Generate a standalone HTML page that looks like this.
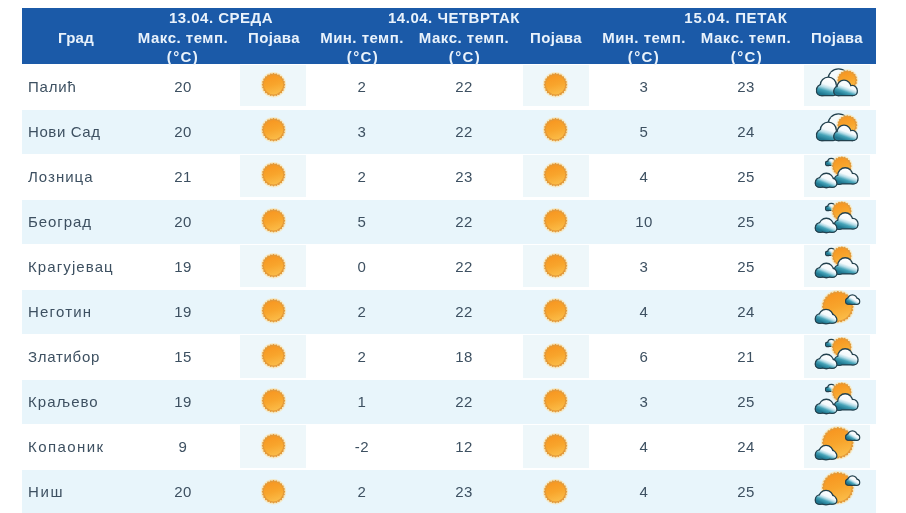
<!DOCTYPE html>
<html><head><meta charset="utf-8"><style>
html,body{margin:0;padding:0;background:#fff;width:906px;height:513px;overflow:hidden;position:relative;font-family:"Liberation Sans",sans-serif;}
.hdr{position:absolute;left:22px;top:8px;width:854px;height:56px;background:#1b5aa8;}
.ht{position:absolute;width:200px;text-align:center;color:#e9f2fb;font-weight:bold;font-size:15px;line-height:15px;letter-spacing:1px;white-space:nowrap;will-change:transform;}
.row{position:absolute;left:22px;width:854px;height:44px;}
.alt{background:#e8f5fb;}
.box{position:absolute;width:66px;height:40px;background:#eef7fa;}
.t{position:absolute;width:200px;text-align:center;color:#3d5061;font-size:15px;line-height:15px;letter-spacing:0.5px;white-space:nowrap;will-change:transform;}
.tl{position:absolute;color:#3d5061;font-size:15px;line-height:15px;white-space:nowrap;will-change:transform;}
.ic{position:absolute;filter:blur(0.35px);}
</style></head><body>
<svg width="0" height="0" style="position:absolute"><defs><linearGradient id="sgP" gradientUnits="userSpaceOnUse" x1="30.32" y1="8.10" x2="36.68" y2="29.30">
<stop offset="0" stop-color="#f79520"/><stop offset="0.5" stop-color="#f8a52c"/><stop offset="1" stop-color="#fbbf4c"/></linearGradient><linearGradient id="sgA" gradientUnits="userSpaceOnUse" x1="40.60" y1="5.20" x2="46.00" y2="23.20">
<stop offset="0" stop-color="#f79520"/><stop offset="0.5" stop-color="#f8a52c"/><stop offset="1" stop-color="#fbbf4c"/></linearGradient><linearGradient id="cgA1" gradientUnits="userSpaceOnUse" x1="25.70" y1="11.80" x2="20.70" y2="28.90">
<stop offset="0" stop-color="#ffffff"/><stop offset="0.42" stop-color="#f3f9fc"/><stop offset="0.58" stop-color="#b6dde8"/><stop offset="0.76" stop-color="#45a3b8"/><stop offset="1" stop-color="#1f7790"/></linearGradient><linearGradient id="cgA2" gradientUnits="userSpaceOnUse" x1="44.00" y1="14.80" x2="39.00" y2="28.90">
<stop offset="0" stop-color="#ffffff"/><stop offset="0.42" stop-color="#f3f9fc"/><stop offset="0.58" stop-color="#b6dde8"/><stop offset="0.76" stop-color="#45a3b8"/><stop offset="1" stop-color="#1f7790"/></linearGradient><linearGradient id="cgB0" gradientUnits="userSpaceOnUse" x1="30.00" y1="2.90" x2="25.00" y2="8.80">
<stop offset="0" stop-color="#ffffff"/><stop offset="0.42" stop-color="#f3f9fc"/><stop offset="0.58" stop-color="#b6dde8"/><stop offset="0.76" stop-color="#45a3b8"/><stop offset="1" stop-color="#1f7790"/></linearGradient><linearGradient id="sgB" gradientUnits="userSpaceOnUse" x1="35.13" y1="1.30" x2="40.47" y2="19.10">
<stop offset="0" stop-color="#f79520"/><stop offset="0.5" stop-color="#f8a52c"/><stop offset="1" stop-color="#fbbf4c"/></linearGradient><linearGradient id="cgB2" gradientUnits="userSpaceOnUse" x1="44.50" y1="12.40" x2="39.50" y2="27.20">
<stop offset="0" stop-color="#ffffff"/><stop offset="0.42" stop-color="#f3f9fc"/><stop offset="0.58" stop-color="#b6dde8"/><stop offset="0.76" stop-color="#45a3b8"/><stop offset="1" stop-color="#1f7790"/></linearGradient><linearGradient id="cgB1" gradientUnits="userSpaceOnUse" x1="24.60" y1="17.90" x2="19.60" y2="30.30">
<stop offset="0" stop-color="#ffffff"/><stop offset="0.42" stop-color="#f3f9fc"/><stop offset="0.58" stop-color="#b6dde8"/><stop offset="0.76" stop-color="#45a3b8"/><stop offset="1" stop-color="#1f7790"/></linearGradient><linearGradient id="sgC" gradientUnits="userSpaceOnUse" x1="29.42" y1="2.20" x2="38.18" y2="31.40">
<stop offset="0" stop-color="#f79520"/><stop offset="0.5" stop-color="#f8a52c"/><stop offset="1" stop-color="#fbbf4c"/></linearGradient><linearGradient id="cgC2" gradientUnits="userSpaceOnUse" x1="51.20" y1="5.40" x2="46.20" y2="13.60">
<stop offset="0" stop-color="#ffffff"/><stop offset="0.42" stop-color="#f3f9fc"/><stop offset="0.58" stop-color="#b6dde8"/><stop offset="0.76" stop-color="#45a3b8"/><stop offset="1" stop-color="#1f7790"/></linearGradient><linearGradient id="cgC1" gradientUnits="userSpaceOnUse" x1="24.60" y1="20.10" x2="19.60" y2="32.50">
<stop offset="0" stop-color="#ffffff"/><stop offset="0.42" stop-color="#f3f9fc"/><stop offset="0.58" stop-color="#b6dde8"/><stop offset="0.76" stop-color="#45a3b8"/><stop offset="1" stop-color="#1f7790"/></linearGradient><g id="sun"><circle cx="33.5" cy="18.7" r="12.70" fill="#fbe2a8" opacity="0.6"/><path d="M45.20,18.70 L45.11,19.08 L44.85,19.44 L44.47,19.78 L44.01,20.08 L44.37,20.50 L44.66,20.92 L44.81,21.34 L44.80,21.73 L44.62,22.07 L44.27,22.36 L43.81,22.58 L43.29,22.76 L43.54,23.25 L43.70,23.73 L43.74,24.18 L43.63,24.55 L43.36,24.83 L42.96,25.02 L42.46,25.12 L41.91,25.15 L42.02,25.69 L42.05,26.20 L41.98,26.64 L41.77,26.97 L41.44,27.18 L41.00,27.25 L40.49,27.22 L39.95,27.11 L39.92,27.66 L39.82,28.16 L39.63,28.56 L39.35,28.83 L38.98,28.94 L38.53,28.90 L38.05,28.74 L37.56,28.49 L37.38,29.01 L37.16,29.47 L36.87,29.82 L36.53,30.00 L36.14,30.01 L35.72,29.86 L35.30,29.57 L34.88,29.21 L34.58,29.67 L34.24,30.05 L33.88,30.31 L33.50,30.40 L33.12,30.31 L32.76,30.05 L32.42,29.67 L32.12,29.21 L31.70,29.57 L31.28,29.86 L30.86,30.01 L30.47,30.00 L30.13,29.82 L29.84,29.47 L29.62,29.01 L29.44,28.49 L28.95,28.74 L28.47,28.90 L28.02,28.94 L27.65,28.83 L27.37,28.56 L27.18,28.16 L27.08,27.66 L27.05,27.11 L26.51,27.22 L26.00,27.25 L25.56,27.18 L25.23,26.97 L25.02,26.64 L24.95,26.20 L24.98,25.69 L25.09,25.15 L24.54,25.12 L24.04,25.02 L23.64,24.83 L23.37,24.55 L23.26,24.18 L23.30,23.73 L23.46,23.25 L23.71,22.76 L23.19,22.58 L22.73,22.36 L22.38,22.07 L22.20,21.73 L22.19,21.34 L22.34,20.92 L22.63,20.50 L22.99,20.08 L22.53,19.78 L22.15,19.44 L21.89,19.08 L21.80,18.70 L21.89,18.32 L22.15,17.96 L22.53,17.62 L22.99,17.32 L22.63,16.90 L22.34,16.48 L22.19,16.06 L22.20,15.67 L22.38,15.33 L22.73,15.04 L23.19,14.82 L23.71,14.64 L23.46,14.15 L23.30,13.67 L23.26,13.22 L23.37,12.85 L23.64,12.57 L24.04,12.38 L24.54,12.28 L25.09,12.25 L24.98,11.71 L24.95,11.20 L25.02,10.76 L25.23,10.43 L25.56,10.22 L26.00,10.15 L26.51,10.18 L27.05,10.29 L27.08,9.74 L27.18,9.24 L27.37,8.84 L27.65,8.57 L28.02,8.46 L28.47,8.50 L28.95,8.66 L29.44,8.91 L29.62,8.39 L29.84,7.93 L30.13,7.58 L30.47,7.40 L30.86,7.39 L31.28,7.54 L31.70,7.83 L32.12,8.19 L32.42,7.73 L32.76,7.35 L33.12,7.09 L33.50,7.00 L33.88,7.09 L34.24,7.35 L34.58,7.73 L34.88,8.19 L35.30,7.83 L35.72,7.54 L36.14,7.39 L36.53,7.40 L36.87,7.58 L37.16,7.93 L37.38,8.39 L37.56,8.91 L38.05,8.66 L38.53,8.50 L38.98,8.46 L39.35,8.57 L39.63,8.84 L39.82,9.24 L39.92,9.74 L39.95,10.29 L40.49,10.18 L41.00,10.15 L41.44,10.22 L41.77,10.43 L41.98,10.76 L42.05,11.20 L42.02,11.71 L41.91,12.25 L42.46,12.28 L42.96,12.38 L43.36,12.57 L43.63,12.85 L43.74,13.22 L43.70,13.67 L43.54,14.15 L43.29,14.64 L43.81,14.82 L44.27,15.04 L44.62,15.33 L44.80,15.67 L44.81,16.06 L44.66,16.48 L44.37,16.90 L44.01,17.32 L44.47,17.62 L44.85,17.96 L45.11,18.32 L45.20,18.70Z" fill="#e39a3a"/><circle cx="33.5" cy="18.7" r="9.70" fill="url(#sgP)"/></g><g id="icA"><g fill="#22414e" stroke="#22414e" stroke-width="2.6"><circle cx="34.5" cy="13.3" r="9.8"/><rect x="26" y="14" width="16" height="8" rx="3"/></g><g fill="#f5fbfd"><circle cx="34.5" cy="13.3" r="9.8"/><rect x="26" y="14" width="16" height="8" rx="3"/></g><circle cx="43.3" cy="14.2" r="11.00" fill="#fbe2a8" opacity="0.6"/><path d="M53.30,14.20 L53.22,14.59 L52.98,14.96 L52.62,15.30 L52.19,15.61 L52.50,16.03 L52.74,16.47 L52.85,16.89 L52.81,17.29 L52.61,17.63 L52.27,17.91 L51.82,18.13 L51.32,18.29 L51.49,18.78 L51.58,19.27 L51.55,19.71 L51.39,20.08 L51.09,20.34 L50.68,20.50 L50.19,20.57 L49.66,20.56 L49.67,21.09 L49.60,21.58 L49.44,21.99 L49.18,22.29 L48.81,22.45 L48.37,22.48 L47.88,22.39 L47.39,22.22 L47.23,22.72 L47.01,23.17 L46.73,23.51 L46.39,23.71 L45.99,23.75 L45.57,23.64 L45.13,23.40 L44.71,23.09 L44.40,23.52 L44.06,23.88 L43.69,24.12 L43.30,24.20 L42.91,24.12 L42.54,23.88 L42.20,23.52 L41.89,23.09 L41.47,23.40 L41.03,23.64 L40.61,23.75 L40.21,23.71 L39.87,23.51 L39.59,23.17 L39.37,22.72 L39.21,22.22 L38.72,22.39 L38.23,22.48 L37.79,22.45 L37.42,22.29 L37.16,21.99 L37.00,21.58 L36.93,21.09 L36.94,20.56 L36.41,20.57 L35.92,20.50 L35.51,20.34 L35.21,20.08 L35.05,19.71 L35.02,19.27 L35.11,18.78 L35.28,18.29 L34.78,18.13 L34.33,17.91 L33.99,17.63 L33.79,17.29 L33.75,16.89 L33.86,16.47 L34.10,16.03 L34.41,15.61 L33.98,15.30 L33.62,14.96 L33.38,14.59 L33.30,14.20 L33.38,13.81 L33.62,13.44 L33.98,13.10 L34.41,12.79 L34.10,12.37 L33.86,11.93 L33.75,11.51 L33.79,11.11 L33.99,10.77 L34.33,10.49 L34.78,10.27 L35.28,10.11 L35.11,9.62 L35.02,9.13 L35.05,8.69 L35.21,8.32 L35.51,8.06 L35.92,7.90 L36.41,7.83 L36.94,7.84 L36.93,7.31 L37.00,6.82 L37.16,6.41 L37.42,6.11 L37.79,5.95 L38.23,5.92 L38.72,6.01 L39.21,6.18 L39.37,5.68 L39.59,5.23 L39.87,4.89 L40.21,4.69 L40.61,4.65 L41.03,4.76 L41.47,5.00 L41.89,5.31 L42.20,4.88 L42.54,4.52 L42.91,4.28 L43.30,4.20 L43.69,4.28 L44.06,4.52 L44.40,4.88 L44.71,5.31 L45.13,5.00 L45.57,4.76 L45.99,4.65 L46.39,4.69 L46.73,4.89 L47.01,5.23 L47.23,5.68 L47.39,6.18 L47.88,6.01 L48.37,5.92 L48.81,5.95 L49.18,6.11 L49.44,6.41 L49.60,6.82 L49.67,7.31 L49.66,7.84 L50.19,7.83 L50.68,7.90 L51.09,8.06 L51.39,8.32 L51.55,8.69 L51.58,9.13 L51.49,9.62 L51.32,10.11 L51.82,10.27 L52.27,10.49 L52.61,10.77 L52.81,11.11 L52.85,11.51 L52.74,11.93 L52.50,12.37 L52.19,12.79 L52.62,13.10 L52.98,13.44 L53.22,13.81 L53.30,14.20Z" fill="#e39a3a"/><circle cx="43.3" cy="14.2" r="8.10" fill="url(#sgA)"/><g fill="#22414e" stroke="#22414e" stroke-width="2.6"><circle cx="24.3" cy="19.2" r="7.4"/><circle cx="18.2" cy="24" r="5.0"/><rect x="13.2" y="22" width="20" height="6.9" rx="4"/></g><g fill="url(#cgA1)"><circle cx="24.3" cy="19.2" r="7.4"/><circle cx="18.2" cy="24" r="5.0"/><rect x="13.2" y="22" width="20" height="6.9" rx="4"/></g><g fill="#22414e" stroke="#22414e" stroke-width="2.6"><circle cx="40" cy="21.1" r="6.3"/><circle cx="48.2" cy="24.5" r="4.4"/><circle cx="34.5" cy="25" r="4.0"/><rect x="30.5" y="23" width="22" height="5.9" rx="3.6"/></g><g fill="url(#cgA2)"><circle cx="40" cy="21.1" r="6.3"/><circle cx="48.2" cy="24.5" r="4.4"/><circle cx="34.5" cy="25" r="4.0"/><rect x="30.5" y="23" width="22" height="5.9" rx="3.6"/></g></g><g id="icB"><g fill="#22414e" stroke="#22414e" stroke-width="2.2"><circle cx="27.3" cy="5.9" r="3.0"/><circle cx="23.8" cy="7.4" r="1.7"/><rect x="22" y="6.2" width="11" height="2.6" rx="1.3"/></g><g fill="url(#cgB0)"><circle cx="27.3" cy="5.9" r="3.0"/><circle cx="23.8" cy="7.4" r="1.7"/><rect x="22" y="6.2" width="11" height="2.6" rx="1.3"/></g><circle cx="37.8" cy="10.2" r="10.80" fill="#fbe2a8" opacity="0.6"/><path d="M47.60,10.20 L47.52,10.58 L47.31,10.95 L46.98,11.29 L46.59,11.59 L46.87,12.00 L47.07,12.43 L47.17,12.84 L47.12,13.23 L46.93,13.57 L46.61,13.85 L46.20,14.07 L45.73,14.24 L45.87,14.72 L45.93,15.18 L45.89,15.61 L45.73,15.96 L45.44,16.22 L45.05,16.39 L44.59,16.48 L44.09,16.49 L44.08,16.99 L43.99,17.45 L43.82,17.84 L43.56,18.13 L43.21,18.29 L42.78,18.33 L42.32,18.27 L41.84,18.13 L41.67,18.60 L41.45,19.01 L41.17,19.33 L40.83,19.52 L40.44,19.57 L40.03,19.47 L39.60,19.27 L39.19,18.99 L38.89,19.38 L38.55,19.71 L38.18,19.92 L37.80,20.00 L37.42,19.92 L37.05,19.71 L36.71,19.38 L36.41,18.99 L36.00,19.27 L35.57,19.47 L35.16,19.57 L34.77,19.52 L34.43,19.33 L34.15,19.01 L33.93,18.60 L33.76,18.13 L33.28,18.27 L32.82,18.33 L32.39,18.29 L32.04,18.13 L31.78,17.84 L31.61,17.45 L31.52,16.99 L31.51,16.49 L31.01,16.48 L30.55,16.39 L30.16,16.22 L29.87,15.96 L29.71,15.61 L29.67,15.18 L29.73,14.72 L29.87,14.24 L29.40,14.07 L28.99,13.85 L28.67,13.57 L28.48,13.23 L28.43,12.84 L28.53,12.43 L28.73,12.00 L29.01,11.59 L28.62,11.29 L28.29,10.95 L28.08,10.58 L28.00,10.20 L28.08,9.82 L28.29,9.45 L28.62,9.11 L29.01,8.81 L28.73,8.40 L28.53,7.97 L28.43,7.56 L28.48,7.17 L28.67,6.83 L28.99,6.55 L29.40,6.33 L29.87,6.16 L29.73,5.68 L29.67,5.22 L29.71,4.79 L29.87,4.44 L30.16,4.18 L30.55,4.01 L31.01,3.92 L31.51,3.91 L31.52,3.41 L31.61,2.95 L31.78,2.56 L32.04,2.27 L32.39,2.11 L32.82,2.07 L33.28,2.13 L33.76,2.27 L33.93,1.80 L34.15,1.39 L34.43,1.07 L34.77,0.88 L35.16,0.83 L35.57,0.93 L36.00,1.13 L36.41,1.41 L36.71,1.02 L37.05,0.69 L37.42,0.48 L37.80,0.40 L38.18,0.48 L38.55,0.69 L38.89,1.02 L39.19,1.41 L39.60,1.13 L40.03,0.93 L40.44,0.83 L40.83,0.88 L41.17,1.07 L41.45,1.39 L41.67,1.80 L41.84,2.27 L42.32,2.13 L42.78,2.07 L43.21,2.11 L43.56,2.27 L43.82,2.56 L43.99,2.95 L44.08,3.41 L44.09,3.91 L44.59,3.92 L45.05,4.01 L45.44,4.18 L45.73,4.44 L45.89,4.79 L45.93,5.22 L45.87,5.68 L45.73,6.16 L46.20,6.33 L46.61,6.55 L46.93,6.83 L47.12,7.17 L47.17,7.56 L47.07,7.97 L46.87,8.40 L46.59,8.81 L46.98,9.11 L47.31,9.45 L47.52,9.82 L47.60,10.20Z" fill="#e39a3a"/><circle cx="37.8" cy="10.2" r="8.00" fill="url(#sgB)"/><g fill="#22414e" stroke="#22414e" stroke-width="2.6"><circle cx="41.2" cy="19.2" r="6.8"/><circle cx="48.8" cy="22.7" r="4.6"/><circle cx="35" cy="23.7" r="4.0"/><rect x="31" y="21.7" width="22" height="5.5" rx="3"/></g><g fill="url(#cgB2)"><circle cx="41.2" cy="19.2" r="6.8"/><circle cx="48.8" cy="22.7" r="4.6"/><circle cx="35" cy="23.7" r="4.0"/><rect x="31" y="21.7" width="22" height="5.5" rx="3"/></g><g fill="#22414e" stroke="#22414e" stroke-width="2.6"><circle cx="22.3" cy="24.5" r="6.6"/><circle cx="16.3" cy="26.5" r="4.3"/><circle cx="28" cy="26.8" r="3.9"/><rect x="12" y="24.5" width="20.2" height="5.8" rx="3.2"/></g><g fill="url(#cgB1)"><circle cx="22.3" cy="24.5" r="6.6"/><circle cx="16.3" cy="26.5" r="4.3"/><circle cx="28" cy="26.8" r="3.9"/><rect x="12" y="24.5" width="20.2" height="5.8" rx="3.2"/></g></g><g id="icC"><circle cx="33.8" cy="16.8" r="16.80" fill="#fbe2a8" opacity="0.6"/><path d="M49.60,16.80 L49.50,17.24 L49.22,17.67 L48.81,18.07 L48.31,18.43 L48.71,18.91 L49.03,19.39 L49.21,19.86 L49.20,20.32 L49.01,20.72 L48.64,21.08 L48.15,21.37 L47.58,21.62 L47.87,22.17 L48.07,22.71 L48.14,23.22 L48.04,23.66 L47.76,24.01 L47.32,24.27 L46.77,24.45 L46.16,24.57 L46.32,25.17 L46.40,25.74 L46.35,26.25 L46.15,26.65 L45.80,26.93 L45.32,27.09 L44.74,27.15 L44.12,27.12 L44.15,27.74 L44.09,28.32 L43.93,28.80 L43.65,29.15 L43.25,29.35 L42.74,29.40 L42.17,29.32 L41.57,29.16 L41.45,29.77 L41.27,30.32 L41.01,30.76 L40.66,31.04 L40.22,31.14 L39.71,31.07 L39.17,30.87 L38.62,30.58 L38.37,31.15 L38.08,31.64 L37.72,32.01 L37.32,32.20 L36.86,32.21 L36.39,32.03 L35.91,31.71 L35.43,31.31 L35.07,31.81 L34.67,32.22 L34.24,32.50 L33.80,32.60 L33.36,32.50 L32.93,32.22 L32.53,31.81 L32.17,31.31 L31.69,31.71 L31.21,32.03 L30.74,32.21 L30.28,32.20 L29.88,32.01 L29.52,31.64 L29.23,31.15 L28.98,30.58 L28.43,30.87 L27.89,31.07 L27.38,31.14 L26.94,31.04 L26.59,30.76 L26.33,30.32 L26.15,29.77 L26.03,29.16 L25.43,29.32 L24.86,29.40 L24.35,29.35 L23.95,29.15 L23.67,28.80 L23.51,28.32 L23.45,27.74 L23.48,27.12 L22.86,27.15 L22.28,27.09 L21.80,26.93 L21.45,26.65 L21.25,26.25 L21.20,25.74 L21.28,25.17 L21.44,24.57 L20.83,24.45 L20.28,24.27 L19.84,24.01 L19.56,23.66 L19.46,23.22 L19.53,22.71 L19.73,22.17 L20.02,21.62 L19.45,21.37 L18.96,21.08 L18.59,20.72 L18.40,20.32 L18.39,19.86 L18.57,19.39 L18.89,18.91 L19.29,18.43 L18.79,18.07 L18.38,17.67 L18.10,17.24 L18.00,16.80 L18.10,16.36 L18.38,15.93 L18.79,15.53 L19.29,15.17 L18.89,14.69 L18.57,14.21 L18.39,13.74 L18.40,13.28 L18.59,12.88 L18.96,12.52 L19.45,12.23 L20.02,11.98 L19.73,11.43 L19.53,10.89 L19.46,10.38 L19.56,9.94 L19.84,9.59 L20.28,9.33 L20.83,9.15 L21.44,9.03 L21.28,8.43 L21.20,7.86 L21.25,7.35 L21.45,6.95 L21.80,6.67 L22.28,6.51 L22.86,6.45 L23.48,6.48 L23.45,5.86 L23.51,5.28 L23.67,4.80 L23.95,4.45 L24.35,4.25 L24.86,4.20 L25.43,4.28 L26.03,4.44 L26.15,3.83 L26.33,3.28 L26.59,2.84 L26.94,2.56 L27.38,2.46 L27.89,2.53 L28.43,2.73 L28.98,3.02 L29.23,2.45 L29.52,1.96 L29.88,1.59 L30.28,1.40 L30.74,1.39 L31.21,1.57 L31.69,1.89 L32.17,2.29 L32.53,1.79 L32.93,1.38 L33.36,1.10 L33.80,1.00 L34.24,1.10 L34.67,1.38 L35.07,1.79 L35.43,2.29 L35.91,1.89 L36.39,1.57 L36.86,1.39 L37.32,1.40 L37.72,1.59 L38.08,1.96 L38.37,2.45 L38.62,3.02 L39.17,2.73 L39.71,2.53 L40.22,2.46 L40.66,2.56 L41.01,2.84 L41.27,3.28 L41.45,3.83 L41.57,4.44 L42.17,4.28 L42.74,4.20 L43.25,4.25 L43.65,4.45 L43.93,4.80 L44.09,5.28 L44.15,5.86 L44.12,6.48 L44.74,6.45 L45.32,6.51 L45.80,6.67 L46.15,6.95 L46.35,7.35 L46.40,7.86 L46.32,8.43 L46.16,9.03 L46.77,9.15 L47.32,9.33 L47.76,9.59 L48.04,9.94 L48.14,10.38 L48.07,10.89 L47.87,11.43 L47.58,11.98 L48.15,12.23 L48.64,12.52 L49.01,12.88 L49.20,13.28 L49.21,13.74 L49.03,14.21 L48.71,14.69 L48.31,15.17 L48.81,15.53 L49.22,15.93 L49.50,16.36 L49.60,16.80Z" fill="#e39a3a"/><circle cx="33.8" cy="16.8" r="13.70" fill="url(#sgC)"/><g fill="#22414e" stroke="#22414e" stroke-width="2.4"><circle cx="48.4" cy="9.6" r="4.2"/><circle cx="44.8" cy="11" r="2.5"/><circle cx="52.3" cy="11.2" r="2.5"/><rect x="42.3" y="9.5" width="12.8" height="4.1" rx="2.1"/></g><g fill="url(#cgC2)"><circle cx="48.4" cy="9.6" r="4.2"/><circle cx="44.8" cy="11" r="2.5"/><circle cx="52.3" cy="11.2" r="2.5"/><rect x="42.3" y="9.5" width="12.8" height="4.1" rx="2.1"/></g><g fill="#22414e" stroke="#22414e" stroke-width="2.6"><circle cx="22" cy="26.7" r="6.6"/><circle cx="16" cy="28.6" r="4.0"/><circle cx="27.8" cy="28.8" r="3.7"/><rect x="12" y="27" width="20.2" height="5.5" rx="3.0"/></g><g fill="url(#cgC1)"><circle cx="22" cy="26.7" r="6.6"/><circle cx="16" cy="28.6" r="4.0"/><circle cx="27.8" cy="28.8" r="3.7"/><rect x="12" y="27" width="20.2" height="5.5" rx="3.0"/></g></g></defs></svg>
<div class="hdr"></div>
<div class="ht" style="left:-24.17px;top:30px;letter-spacing:0.25px">Град</div>
<div class="ht" style="left:120.75px;top:10px;letter-spacing:0.5px">13.04. СРЕДА</div>
<div class="ht" style="left:353.55px;top:10px;letter-spacing:0.5px">14.04. ЧЕТВРТАК</div>
<div class="ht" style="left:635.65px;top:10px;letter-spacing:0.7px">15.04. ПЕТАК</div>
<div class="ht" style="left:82.65px;top:30px;letter-spacing:0.5px">Макс. темп.</div>
<div class="ht" style="left:83.10px;top:48.5px;letter-spacing:1.4px">(°C)</div>
<div class="ht" style="left:173.66px;top:30px;letter-spacing:0.33px">Појава</div>
<div class="ht" style="left:262.24px;top:30px;letter-spacing:0.47px">Мин. темп.</div>
<div class="ht" style="left:262.70px;top:48.5px;letter-spacing:1.4px">(°C)</div>
<div class="ht" style="left:364.25px;top:30px;letter-spacing:0.5px">Макс. темп.</div>
<div class="ht" style="left:364.70px;top:48.5px;letter-spacing:1.4px">(°C)</div>
<div class="ht" style="left:456.17px;top:30px;letter-spacing:0.33px">Појава</div>
<div class="ht" style="left:543.94px;top:30px;letter-spacing:0.47px">Мин. темп.</div>
<div class="ht" style="left:544.40px;top:48.5px;letter-spacing:1.4px">(°C)</div>
<div class="ht" style="left:646.25px;top:30px;letter-spacing:0.5px">Макс. темп.</div>
<div class="ht" style="left:646.70px;top:48.5px;letter-spacing:1.4px">(°C)</div>
<div class="ht" style="left:737.16px;top:30px;letter-spacing:0.33px">Појава</div>
<div class="row" style="top:65px"></div>
<div class="box" style="left:240px;top:65.4px;height:41.0px"></div>
<div class="box" style="left:523px;top:65.4px;height:41.0px"></div>
<div class="box" style="left:804px;top:65.4px;height:41.0px"></div>
<div class="tl" style="left:27.5px;top:78.9px;letter-spacing:0.82px">Палић</div>
<div class="t" style="left:82.75px;top:78.9px">20</div>
<div class="t" style="left:262.25px;top:78.9px">2</div>
<div class="t" style="left:364.25px;top:78.9px">22</div>
<div class="t" style="left:543.75px;top:78.9px">3</div>
<div class="t" style="left:646.25px;top:78.9px">23</div>
<svg class="ic" style="left:240.1px;top:66.10px" width="66" height="40" viewBox="0 0 66 40"><use href="#sun"/></svg>
<svg class="ic" style="left:521.7px;top:66.10px" width="66" height="40" viewBox="0 0 66 40"><use href="#sun"/></svg>
<svg class="ic" style="left:804px;top:66.00px" width="66" height="40" viewBox="0 0 66 40"><use href="#icA"/></svg>
<div class="row alt" style="top:110px"></div>
<div class="tl" style="left:27.5px;top:123.96px;letter-spacing:0.6px">Нови Сад</div>
<div class="t" style="left:82.75px;top:123.96px">20</div>
<div class="t" style="left:262.25px;top:123.96px">3</div>
<div class="t" style="left:364.25px;top:123.96px">22</div>
<div class="t" style="left:543.75px;top:123.96px">5</div>
<div class="t" style="left:646.25px;top:123.96px">24</div>
<svg class="ic" style="left:240.1px;top:111.27px" width="66" height="40" viewBox="0 0 66 40"><use href="#sun"/></svg>
<svg class="ic" style="left:521.7px;top:111.27px" width="66" height="40" viewBox="0 0 66 40"><use href="#sun"/></svg>
<svg class="ic" style="left:804px;top:111.17px" width="66" height="40" viewBox="0 0 66 40"><use href="#icA"/></svg>
<div class="row" style="top:155px"></div>
<div class="box" style="left:240px;top:155.4px;height:41.4px"></div>
<div class="box" style="left:523px;top:155.4px;height:41.4px"></div>
<div class="box" style="left:804px;top:155.4px;height:41.4px"></div>
<div class="tl" style="left:27.5px;top:169.02px;letter-spacing:1.0px">Лозница</div>
<div class="t" style="left:82.75px;top:169.02px">21</div>
<div class="t" style="left:262.25px;top:169.02px">2</div>
<div class="t" style="left:364.25px;top:169.02px">23</div>
<div class="t" style="left:543.75px;top:169.02px">4</div>
<div class="t" style="left:646.25px;top:169.02px">25</div>
<svg class="ic" style="left:240.1px;top:156.44px" width="66" height="40" viewBox="0 0 66 40"><use href="#sun"/></svg>
<svg class="ic" style="left:521.7px;top:156.44px" width="66" height="40" viewBox="0 0 66 40"><use href="#sun"/></svg>
<svg class="ic" style="left:804px;top:156.00px" width="66" height="40" viewBox="0 0 66 40"><use href="#icB"/></svg>
<div class="row alt" style="top:200px"></div>
<div class="tl" style="left:27.5px;top:214.08px;letter-spacing:0.93px">Београд</div>
<div class="t" style="left:82.75px;top:214.08px">20</div>
<div class="t" style="left:262.25px;top:214.08px">5</div>
<div class="t" style="left:364.25px;top:214.08px">22</div>
<div class="t" style="left:543.75px;top:214.08px">10</div>
<div class="t" style="left:646.25px;top:214.08px">25</div>
<svg class="ic" style="left:240.1px;top:201.61px" width="66" height="40" viewBox="0 0 66 40"><use href="#sun"/></svg>
<svg class="ic" style="left:521.7px;top:201.61px" width="66" height="40" viewBox="0 0 66 40"><use href="#sun"/></svg>
<svg class="ic" style="left:804px;top:201.17px" width="66" height="40" viewBox="0 0 66 40"><use href="#icB"/></svg>
<div class="row" style="top:245px"></div>
<div class="box" style="left:240px;top:245.4px;height:41.8px"></div>
<div class="box" style="left:523px;top:245.4px;height:41.8px"></div>
<div class="box" style="left:804px;top:245.4px;height:41.8px"></div>
<div class="tl" style="left:27.5px;top:259.14px;letter-spacing:1.1px">Крагујевац</div>
<div class="t" style="left:82.75px;top:259.14px">19</div>
<div class="t" style="left:262.25px;top:259.14px">0</div>
<div class="t" style="left:364.25px;top:259.14px">22</div>
<div class="t" style="left:543.75px;top:259.14px">3</div>
<div class="t" style="left:646.25px;top:259.14px">25</div>
<svg class="ic" style="left:240.1px;top:246.78px" width="66" height="40" viewBox="0 0 66 40"><use href="#sun"/></svg>
<svg class="ic" style="left:521.7px;top:246.78px" width="66" height="40" viewBox="0 0 66 40"><use href="#sun"/></svg>
<svg class="ic" style="left:804px;top:246.34px" width="66" height="40" viewBox="0 0 66 40"><use href="#icB"/></svg>
<div class="row alt" style="top:290px"></div>
<div class="tl" style="left:27.5px;top:304.2px;letter-spacing:1.2px">Неготин</div>
<div class="t" style="left:82.75px;top:304.2px">19</div>
<div class="t" style="left:262.25px;top:304.2px">2</div>
<div class="t" style="left:364.25px;top:304.2px">22</div>
<div class="t" style="left:543.75px;top:304.2px">4</div>
<div class="t" style="left:646.25px;top:304.2px">24</div>
<svg class="ic" style="left:240.1px;top:291.95px" width="66" height="40" viewBox="0 0 66 40"><use href="#sun"/></svg>
<svg class="ic" style="left:521.7px;top:291.95px" width="66" height="40" viewBox="0 0 66 40"><use href="#sun"/></svg>
<svg class="ic" style="left:804px;top:290.49px" width="66" height="40" viewBox="0 0 66 40"><use href="#icC"/></svg>
<div class="row" style="top:335px"></div>
<div class="box" style="left:240px;top:335.4px;height:42.2px"></div>
<div class="box" style="left:523px;top:335.4px;height:42.2px"></div>
<div class="box" style="left:804px;top:335.4px;height:42.2px"></div>
<div class="tl" style="left:27.5px;top:349.26px;letter-spacing:0.71px">Златибор</div>
<div class="t" style="left:82.75px;top:349.26px">15</div>
<div class="t" style="left:262.25px;top:349.26px">2</div>
<div class="t" style="left:364.25px;top:349.26px">18</div>
<div class="t" style="left:543.75px;top:349.26px">6</div>
<div class="t" style="left:646.25px;top:349.26px">21</div>
<svg class="ic" style="left:240.1px;top:337.12px" width="66" height="40" viewBox="0 0 66 40"><use href="#sun"/></svg>
<svg class="ic" style="left:521.7px;top:337.12px" width="66" height="40" viewBox="0 0 66 40"><use href="#sun"/></svg>
<svg class="ic" style="left:804px;top:336.68px" width="66" height="40" viewBox="0 0 66 40"><use href="#icB"/></svg>
<div class="row alt" style="top:380px"></div>
<div class="tl" style="left:27.5px;top:394.32px;letter-spacing:1.03px">Краљево</div>
<div class="t" style="left:82.75px;top:394.32px">19</div>
<div class="t" style="left:262.25px;top:394.32px">1</div>
<div class="t" style="left:364.25px;top:394.32px">22</div>
<div class="t" style="left:543.75px;top:394.32px">3</div>
<div class="t" style="left:646.25px;top:394.32px">25</div>
<svg class="ic" style="left:240.1px;top:382.29px" width="66" height="40" viewBox="0 0 66 40"><use href="#sun"/></svg>
<svg class="ic" style="left:521.7px;top:382.29px" width="66" height="40" viewBox="0 0 66 40"><use href="#sun"/></svg>
<svg class="ic" style="left:804px;top:381.85px" width="66" height="40" viewBox="0 0 66 40"><use href="#icB"/></svg>
<div class="row" style="top:425px"></div>
<div class="box" style="left:240px;top:425.4px;height:42.6px"></div>
<div class="box" style="left:523px;top:425.4px;height:42.6px"></div>
<div class="box" style="left:804px;top:425.4px;height:42.6px"></div>
<div class="tl" style="left:27.5px;top:439.38px;letter-spacing:1.42px">Копаоник</div>
<div class="t" style="left:82.75px;top:439.38px">9</div>
<div class="t" style="left:262.25px;top:439.38px">-2</div>
<div class="t" style="left:364.25px;top:439.38px">12</div>
<div class="t" style="left:543.75px;top:439.38px">4</div>
<div class="t" style="left:646.25px;top:439.38px">24</div>
<svg class="ic" style="left:240.1px;top:427.46px" width="66" height="40" viewBox="0 0 66 40"><use href="#sun"/></svg>
<svg class="ic" style="left:521.7px;top:427.46px" width="66" height="40" viewBox="0 0 66 40"><use href="#sun"/></svg>
<svg class="ic" style="left:804px;top:426.00px" width="66" height="40" viewBox="0 0 66 40"><use href="#icC"/></svg>
<div class="row alt" style="top:470px"></div>
<div class="tl" style="left:27.5px;top:484.44px;letter-spacing:1.6px">Ниш</div>
<div class="t" style="left:82.75px;top:484.44px">20</div>
<div class="t" style="left:262.25px;top:484.44px">2</div>
<div class="t" style="left:364.25px;top:484.44px">23</div>
<div class="t" style="left:543.75px;top:484.44px">4</div>
<div class="t" style="left:646.25px;top:484.44px">25</div>
<svg class="ic" style="left:240.1px;top:472.63px" width="66" height="40" viewBox="0 0 66 40"><use href="#sun"/></svg>
<svg class="ic" style="left:521.7px;top:472.63px" width="66" height="40" viewBox="0 0 66 40"><use href="#sun"/></svg>
<svg class="ic" style="left:804px;top:471.17px" width="66" height="40" viewBox="0 0 66 40"><use href="#icC"/></svg>
</body></html>
